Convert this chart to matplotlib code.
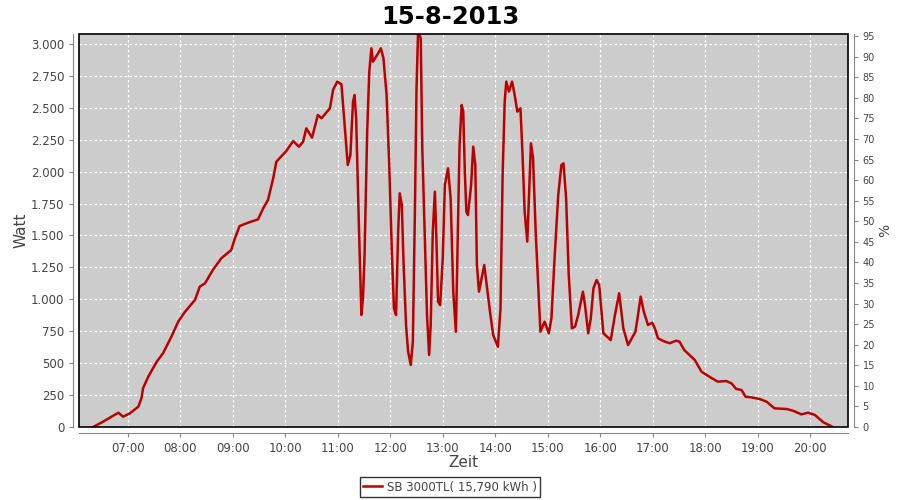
import numpy as np
import matplotlib
matplotlib.use('Agg')
import matplotlib.pyplot as plt
from matplotlib.patches import Rectangle
from matplotlib.ticker import FuncFormatter

title = "15-8-2013"
series_name = "SB 3000TL( 15,790 kWh )"

# time of day in hours, power in watt
hours = [6.34, 6.53, 6.66, 6.82, 6.91, 7.04, 7.20, 7.26, 7.29, 7.39, 7.55, 7.67, 7.83,
         7.96, 8.09, 8.28, 8.37, 8.47, 8.62, 8.78, 8.97, 9.04, 9.13, 9.29, 9.48, 9.58,
         9.67, 9.77, 9.83, 10.02, 10.15, 10.26, 10.34, 10.40, 10.51, 10.62, 10.69, 10.85,
         10.91, 10.99, 11.07, 11.13, 11.19, 11.24, 11.29, 11.32, 11.35, 11.40, 11.45,
         11.48, 11.51, 11.56, 11.60, 11.64, 11.67, 11.77, 11.82, 11.87, 11.93, 11.98,
         12.03, 12.07, 12.11, 12.15, 12.18, 12.22, 12.25, 12.30, 12.34, 12.39, 12.43,
         12.47, 12.50, 12.53, 12.58, 12.61, 12.66, 12.70, 12.74, 12.77, 12.81, 12.85,
         12.88, 12.91, 12.95, 13.00, 13.04, 13.10, 13.15, 13.20, 13.25, 13.28, 13.32,
         13.36, 13.39, 13.42, 13.45, 13.48, 13.54, 13.58, 13.62, 13.65, 13.69, 13.74,
         13.79, 13.83, 13.90, 13.96, 14.05, 14.10, 14.14, 14.18, 14.21, 14.26, 14.32,
         14.37, 14.42, 14.48, 14.52, 14.56, 14.61, 14.65, 14.68, 14.72, 14.77, 14.82,
         14.86, 14.94, 15.02, 15.07, 15.13, 15.20, 15.26, 15.30, 15.35, 15.40, 15.46,
         15.52, 15.58, 15.67, 15.71, 15.77, 15.82, 15.87, 15.93, 15.98, 16.06, 16.20,
         16.28, 16.36, 16.44, 16.53, 16.67, 16.71, 16.77, 16.83, 16.91, 16.99, 17.04,
         17.10, 17.20, 17.32, 17.45, 17.51, 17.60, 17.80, 17.93, 18.11, 18.24, 18.40,
         18.50, 18.59, 18.69, 18.77, 18.88, 19.04, 19.17, 19.32, 19.55, 19.67, 19.83,
         19.96, 20.09, 20.25, 20.42]
watt = [0, 42, 73, 112, 81, 107, 159, 225, 303, 394, 511, 577, 707,
        825, 903, 995, 1099, 1125, 1230, 1321, 1386, 1478, 1574, 1600, 1626, 1713,
        1778, 1948, 2078, 2162, 2240, 2195, 2235, 2339, 2266, 2444, 2418, 2496,
        2640, 2705, 2684, 2365, 2052, 2130, 2548, 2600, 2418, 1608, 877,
        1008, 1347, 2313, 2783, 2966, 2861, 2927, 2966, 2888, 2600, 2052,
        1373, 930, 877, 1530, 1830, 1739, 1321, 799, 590, 486, 668,
        1713, 2653, 3100, 3044, 2183, 1452, 877, 564, 799, 1530, 1843,
        1452, 981, 955, 1321, 1896, 2026, 1791, 1060, 746, 1373, 2209,
        2522, 2470, 2000, 1686, 1660, 1896, 2196, 2052, 1269, 1060, 1164,
        1269, 1138, 903, 721, 629, 930, 1974, 2548, 2705, 2627, 2705,
        2600, 2470, 2496, 2130, 1686, 1452, 1896, 2222, 2104, 1530, 1086,
        746, 825, 734, 851, 1321, 1817, 2052, 2065, 1791, 1190, 773,
        786, 877, 1060, 955, 734, 851, 1086, 1151, 1112, 734, 681,
        877, 1047, 773, 642, 746, 851, 1021, 903, 799, 817, 773,
        695, 674, 656, 676, 668, 603, 525, 433, 386, 355, 360,
        342, 298, 290, 237, 232, 219, 198, 146, 141, 128, 99,
        112, 94, 37, 2]

watt_ticks = np.arange(0, 3001, 250)
pct_ticks = np.arange(0, 96, 5)
hour_ticks = np.arange(7, 21)

fig = plt.figure(figsize=(9, 5), dpi=100)
ax = fig.add_axes([79 / 900, 1 - 427 / 500, (848 - 79) / 900, (427 - 34) / 500])
ax.set_facecolor('#cccccc')

ax.plot(hours, watt, color='#bb0000', linewidth=1.8, label=series_name)

ax.set_xlim(6.07, 20.72)
ax.set_ylim(0, 3078)
ax.set_xticks(hour_ticks)
ax.set_xticklabels(['%02d:00' % h for h in hour_ticks])
ax.set_yticks(watt_ticks)
ax.yaxis.set_major_formatter(FuncFormatter(lambda v, p: '{:,.0f}'.format(v).replace(',', '.')))
ax.grid(True, color='white', linestyle=(0, (2, 2)), linewidth=0.9)

for s in ['left', 'bottom']:
    ax.spines[s].set_position(('outward', 4))
    ax.spines[s].set_color('#888888')
for s in ['top', 'right']:
    ax.spines[s].set_visible(False)
ax.add_patch(Rectangle((0, 0), 1, 1, transform=ax.transAxes, fill=False,
                       edgecolor='black', linewidth=1.2, clip_on=False, zorder=5))
ax.tick_params(axis='both', colors='#888888', labelcolor='#444444', labelsize=8.5,
               length=3, direction='out')

ax.set_xlabel('Zeit', fontsize=11, color='#444444', labelpad=0)
ax.set_ylabel('Watt', fontsize=11, color='#444444', labelpad=2)

ax2 = ax.twinx()
ax2.set_ylim(0, 95 * 3078 / 3062)
ax2.set_yticks(pct_ticks)
for s in ['left', 'bottom', 'top']:
    ax2.spines[s].set_visible(False)
ax2.spines['right'].set_position(('outward', 4))
ax2.spines['right'].set_color('#888888')
ax2.tick_params(axis='y', colors='#888888', labelcolor='#444444', labelsize=7,
                length=3, direction='out')
ax2.set_ylabel('%', fontsize=10, color='#444444', labelpad=2)

fig.suptitle(title, fontsize=17.5, fontweight='bold', y=0.99)

leg = ax.legend(loc='center', bbox_to_anchor=(0.5, 13 / 500), bbox_transform=fig.transFigure,
                frameon=True, fancybox=False, fontsize=8.5, handlelength=1.6, borderpad=0.3,
                handletextpad=0.4, borderaxespad=0)
leg.get_frame().set_edgecolor('black')
leg.get_frame().set_linewidth(1)
for t in leg.get_texts():
    t.set_color('#444444')

fig.savefig('out.png', dpi=100)
